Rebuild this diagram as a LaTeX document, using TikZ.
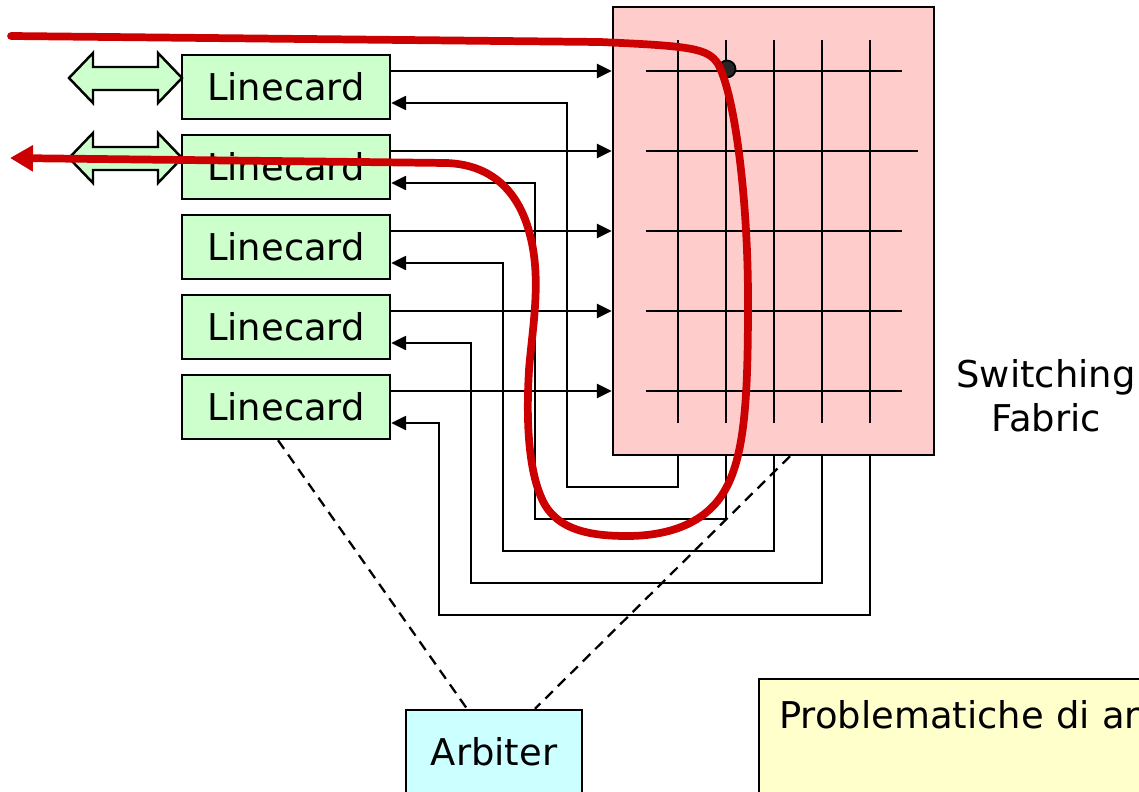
\documentclass[tikz,border=0pt]{standalone}
\usepackage{fontspec}
\setmainfont{DejaVu Sans}
\usetikzlibrary{arrows.meta}

\definecolor{cardgreen}{HTML}{CCFFCC}
\definecolor{fabricpink}{HTML}{FFCCCC}
\definecolor{arbcyan}{HTML}{CCFFFF}
\definecolor{noteyellow}{HTML}{FFFFCC}
\definecolor{pathred}{HTML}{CC0000}

\begin{document}
\begin{tikzpicture}[x=0.02cm, y=-0.02cm, font=\fontsize{21}{25}\selectfont]
        \tikzstyle{card}=[draw, line width=1.4pt, fill=cardgreen, minimum width=4.16cm, minimum height=1.28cm, inner sep=0pt]
        \tikzstyle{fabricbox}=[draw, line width=1.4pt, fill=fabricpink, minimum width=6.42cm, minimum height=8.96cm, inner sep=0pt]
        \tikzstyle{arbbox}=[draw, line width=1.4pt, fill=arbcyan, minimum width=3.52cm, minimum height=1.68cm, inner sep=0pt]
        \tikzstyle{notebox}=[draw, line width=1.4pt, fill=noteyellow, anchor=north west, align=left, text width=7.6cm, inner xsep=0.4cm, inner ysep=0.42cm, text height=0.56cm, text depth=1.04cm]
        \tikzstyle{link}=[line width=1.4pt, -{Triangle[length=0.3cm, width=0.28cm]}]
        \tikzstyle{grid}=[line width=1.4pt]
        \tikzstyle{ctrl}=[line width=1.3pt, dash pattern=on 6pt off 4pt]
        \tikzstyle{route}=[line width=4.4pt, pathred, line cap=round]
        \useasboundingbox (0,0) rectangle (1139,791);
        \clip (0,0) rectangle (1139,791);
        \foreach \i in {1,...,5}
            \node[card] (lc\i) at (286, 7+80*\i) {Linecard};
        \foreach \y in {78,158}
            \draw[line width=1.4pt, fill=cardgreen] (69,\y) -- (93,\y-25) -- (93,\y-11) -- (158,\y-11) -- (158,\y-25)
                -- (182,\y) -- (158,\y+25) -- (158,\y+12) -- (93,\y+12) -- (93,\y+25) -- cycle;
        \node[fabricbox] (fabric) at (773.5,231) {};
        \node[align=center] (label) at (1046,396) {Switching\\Fabric};
        \foreach \j in {1,...,5} {
            \coordinate (c\j) at ({630+48*\j},40);
            \draw[grid] (c\j) -- ++(0,383);
        }
        \foreach \i in {1,...,5}
            \draw[grid] (646,{-9+80*\i}) -- ({\i==2 ? 918 : 902},{-9+80*\i});
        \foreach \i in {1,...,5} {
            \draw[link] ([yshift=0.32cm]lc\i.east) -- ([yshift=0.32cm]lc\i.east -| fabric.west);
            \draw[link] (c\i |- fabric.south) |- ({599-32*\i},{455+32*\i}) |- ([yshift=-0.32cm]lc\i.east);
        }
        \node[arbbox] (arbiter) at (494,752) {Arbiter};
        \node[notebox] (note) at (758,678) {Problematiche di ar};
        \draw[ctrl] ([xshift=-0.16cm]lc5.south) -- ([xshift=-0.54cm]arbiter.north);
        \draw[ctrl] ([xshift=0.33cm]fabric.south) -- ([xshift=0.82cm]arbiter.north);
        \node[circle, draw, line width=1pt, fill=black!85, inner sep=0pt, minimum size=0.34cm] (xp) at (727,69) {};
        \coordinate (src) at (11,36);
        \coordinate (dst) at (10,158);
        \draw[route, -{Triangle[length=0.46cm, width=0.5cm]}] (src) -- (600,42)
            .. controls (690,46) and (708,48) .. (718,64)
            .. controls (735,95) and (748,200) .. (748,300)
            .. controls (748,400) and (745,460) .. (722,495)
            .. controls (700,528) and (660,536) .. (627,536)
            .. controls (590,536) and (560,530) .. (545,505)
            .. controls (528,475) and (526,420) .. (529,370)
            .. controls (532,330) and (542,280) .. (530,235)
            .. controls (520,195) and (495,165) .. (447,163) -- (dst);
\end{tikzpicture}
\end{document}
